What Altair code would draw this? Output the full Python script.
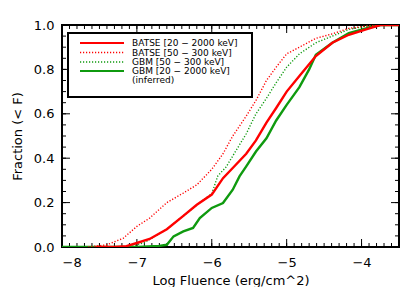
import altair as alt
import pandas as pd
import numpy as np

# ---- data ----
batse_wide_x = [-7.55, -7.3, -7.14, -7.0, -6.83, -6.6, -6.38, -6.2, -6.0, -5.85, -5.72, -5.54, -5.41, -5.27, -5.14, -5.0, -4.83, -4.61, -4.39, -4.17, -3.94, -3.75, -3.5]
batse_wide_y = [0.0, 0.0, 0.004, 0.018, 0.036, 0.08, 0.14, 0.19, 0.236, 0.31, 0.356, 0.42, 0.48, 0.56, 0.626, 0.70, 0.77, 0.86, 0.92, 0.956, 0.98, 1.0, 1.0]

batse_narrow_x = [-7.65, -7.4, -7.18, -7.0, -6.83, -6.6, -6.38, -6.2, -6.0, -5.85, -5.72, -5.54, -5.41, -5.27, -5.14, -5.0, -4.83, -4.61, -4.39, -4.17, -3.94, -3.75, -3.5]
batse_narrow_y = [0.0, 0.01, 0.04, 0.093, 0.13, 0.2, 0.243, 0.28, 0.35, 0.42, 0.5, 0.59, 0.66, 0.75, 0.81, 0.87, 0.9, 0.94, 0.96, 0.985, 0.995, 1.0, 1.0]

gbm_narrow_x = [-7.1, -6.9, -6.6, -6.38, -6.16, -6.0, -5.92, -5.81, -5.72, -5.54, -5.41, -5.27, -5.14, -5.0, -4.83, -4.61, -4.39, -4.17, -3.94, -3.75, -3.5]
gbm_narrow_y = [0.0, 0.02, 0.08, 0.14, 0.2, 0.24, 0.32, 0.36, 0.41, 0.51, 0.60, 0.67, 0.74, 0.81, 0.87, 0.92, 0.95, 0.98, 0.995, 1.0, 1.0]

gbm_inf_x = [-8.0, -7.0, -6.7, -6.6, -6.51, -6.38, -6.25, -6.16, -6.0, -5.85, -5.72, -5.63, -5.54, -5.41, -5.27, -5.14, -5.0, -4.83, -4.7, -4.61, -4.39, -4.17, -3.94, -3.75, -3.5]
gbm_inf_y = [0.0, 0.0, 0.005, 0.01, 0.048, 0.07, 0.086, 0.13, 0.176, 0.198, 0.258, 0.318, 0.363, 0.43, 0.49, 0.57, 0.64, 0.72, 0.80, 0.866, 0.92, 0.964, 0.985, 1.0, 1.0]

series_names = ["BATSE [20 − 2000 keV]", "BATSE [50 − 300 keV]", "GBM [50 − 300 keV]", "GBM [20 − 2000 keV]"]
legend_extra = "(inferred)"

x_tick_labels = [-8, -7, -6, -5, -4]
y_tick_labels = [0, 0.2, 0.4, 0.6, 0.8, 1.0]

RED = "#ff0000"
GREEN = "#0f9a0f"

W, H = 337, 222
XMIN, XMAX = -8.0, -3.5

def frame(xs, ys, name):
    return pd.DataFrame({"x": xs, "y": ys, "s": name})

xs = alt.Scale(domain=[XMIN, XMAX], nice=False, zero=False)
ys = alt.Scale(domain=[0, 1], nice=False, zero=False)

def curve(df, color, width, dash=None):
    kw = dict(color=color, strokeWidth=width, clip=True)
    if dash:
        kw["strokeDash"] = dash
    return alt.Chart(df).mark_line(**kw).encode(
        x=alt.X("x:Q", scale=xs),
        y=alt.Y("y:Q", scale=ys),
        order="x:Q",
    )

base_axes = alt.Chart(pd.DataFrame({"x": [XMIN], "y": [0.0]})).mark_point(opacity=0).encode(
    x=alt.X("x:Q", scale=xs, title="Log Fluence (erg/cm^2)",
            axis=alt.Axis(values=x_tick_labels, format="d", ticks=False, domain=False,
                          grid=False, labelPadding=9, titlePadding=5)),
    y=alt.Y("y:Q", scale=ys, title="Fraction (< F)",
            axis=alt.Axis(values=y_tick_labels, format=".1f", ticks=False, domain=False,
                          grid=False, labelPadding=8, titlePadding=9)),
)

# tick marks (inward, on all sides)
xmin_t = [round(v, 1) for v in np.arange(-8, -3.45, 0.1)]
ymin_t = [round(v, 2) for v in np.arange(0, 1.001, 0.05)]

def xticks(vals, length):
    d = pd.DataFrame({"x": vals})
    b = alt.Chart(d).mark_rule(color="black", strokeWidth=1).encode(x=alt.X("x:Q", scale=xs))
    bottom = b.encode(y=alt.value(H), y2=alt.value(H - length))
    top = b.encode(y=alt.value(0), y2=alt.value(length))
    return bottom + top

def yticks(vals, length):
    d = pd.DataFrame({"y": vals})
    b = alt.Chart(d).mark_rule(color="black", strokeWidth=1).encode(y=alt.Y("y:Q", scale=ys))
    left = b.encode(x=alt.value(0), x2=alt.value(length))
    right = b.encode(x=alt.value(W), x2=alt.value(W - length))
    return left + right

ticks = xticks(x_tick_labels, 8) + xticks(xmin_t, 4) + yticks(y_tick_labels, 8) + yticks(ymin_t, 4)

c_gi = curve(frame(gbm_inf_x, gbm_inf_y, series_names[3]), GREEN, 2.4)
c_gn = curve(frame(gbm_narrow_x, gbm_narrow_y, series_names[2]), GREEN, 1.4, [1.2, 1.8])
c_bw = curve(frame(batse_wide_x, batse_wide_y, series_names[0]), RED, 2.4)
c_bn = curve(frame(batse_narrow_x, batse_narrow_y, series_names[1]), RED, 1.4, [1.2, 1.8])

# legend box
lx0, ly0, lx1, ly1 = 6, 8, 190, 72
legend_box = alt.Chart(pd.DataFrame({"a": [0]})).mark_rect(
    fill="white", stroke="black", strokeWidth=2).encode(
    x=alt.value(lx0), x2=alt.value(lx1), y=alt.value(ly0), y2=alt.value(ly1))

row_y = [18, 27.5, 37, 46]
colors = [RED, RED, GREEN, GREEN]
dashes = [None, [1.2, 1.8], [1.2, 1.8], None]
widths = [2.2, 1.4, 1.4, 2.2]
legend_layers = [legend_box]
for i in range(4):
    kw = dict(color=colors[i], strokeWidth=widths[i])
    if dashes[i]:
        kw["strokeDash"] = dashes[i]
    legend_layers.append(
        alt.Chart(pd.DataFrame({"a": [0]})).mark_rule(**kw).encode(
            x=alt.value(18), x2=alt.value(62), y=alt.value(row_y[i]))
    )
legend_text = alt.layer(*[
    alt.Chart(pd.DataFrame({"t": [t]})).mark_text(
        align="left", baseline="middle", fontSize=9, font="DejaVu Sans", color="black").encode(
        x=alt.value(70), y=alt.value(yy), text="t:N")
    for t, yy in zip(series_names + [legend_extra], row_y + [55])
])

chart = alt.layer(base_axes, ticks, c_gi, c_gn, c_bw, c_bn, *legend_layers, legend_text).properties(
    width=W, height=H,
    autosize=alt.AutoSizeParams(type="none"),
    padding={"left": 54, "top": 17, "right": 6, "bottom": 40},
).configure_view(stroke="black", strokeWidth=2).configure_axis(
    labelFont="DejaVu Sans", titleFont="DejaVu Sans", labelFontSize=13, titleFontSize=13,
    labelColor="black", titleColor="black", titleFontWeight="normal",
)

chart.save("out.html", embed_options={"renderer": "svg", "actions": False})
